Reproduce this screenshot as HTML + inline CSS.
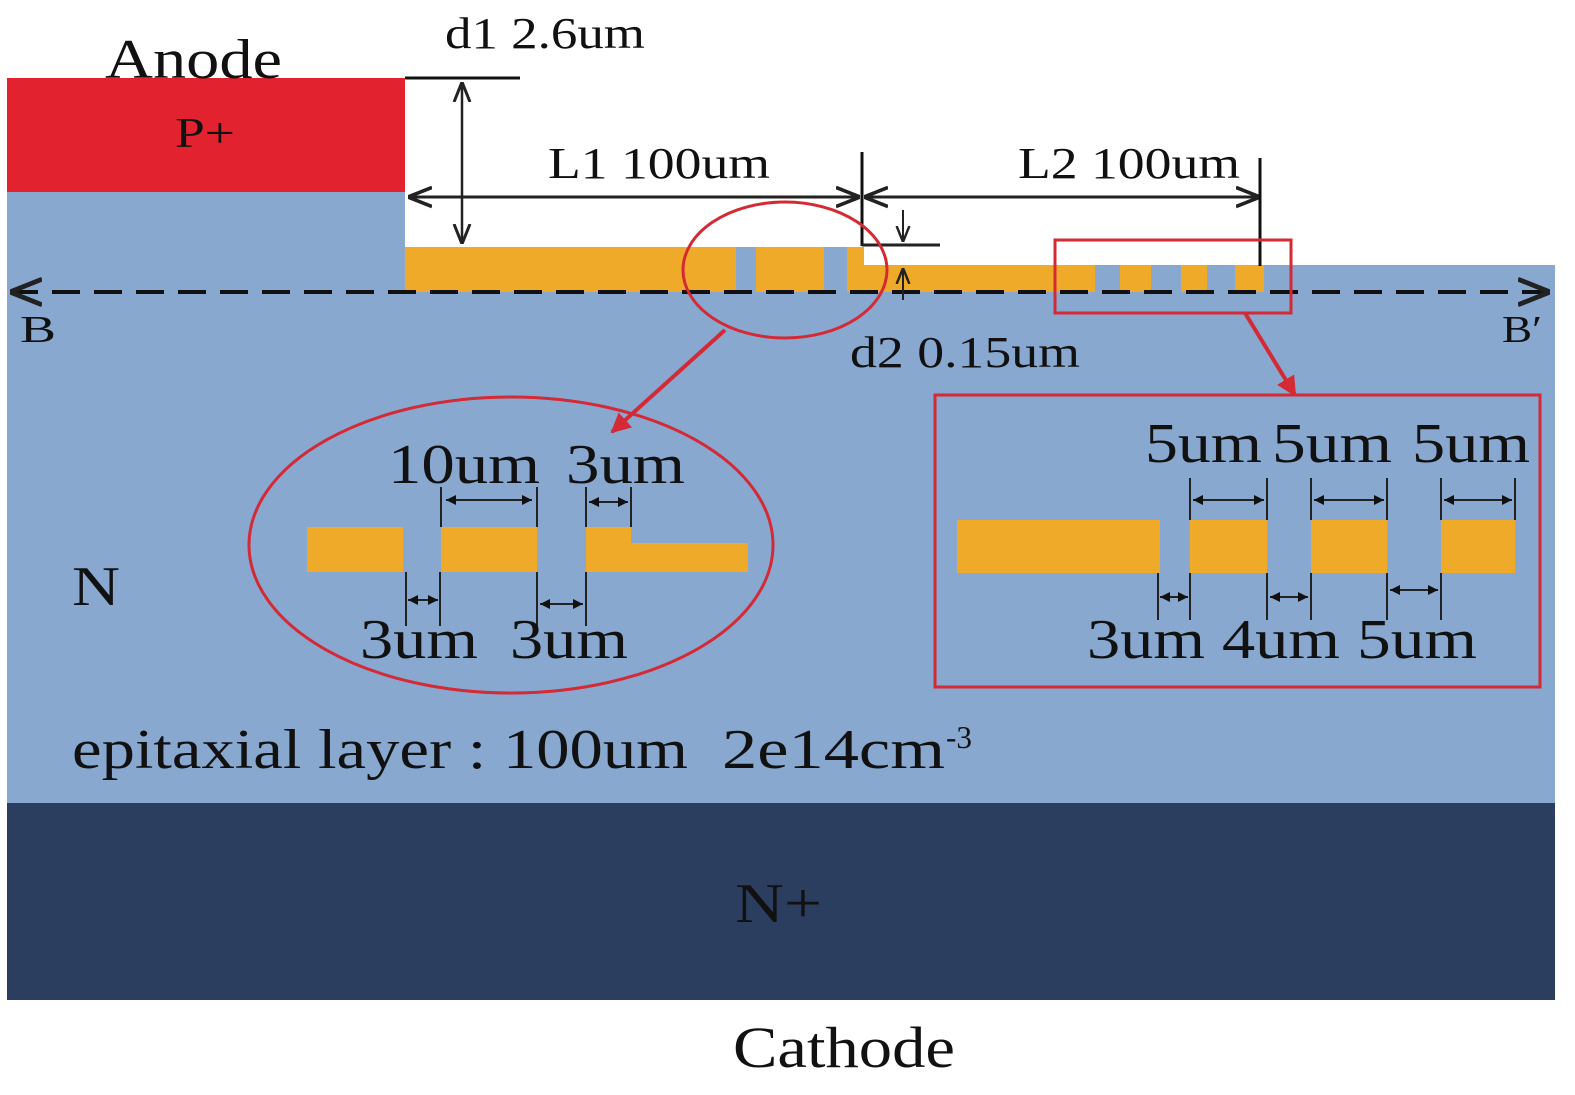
<!DOCTYPE html>
<html><head><meta charset="utf-8"><style>
body{margin:0;background:#fff}
svg{display:block}
text{font-family:"Liberation Serif",serif;fill:#111}
</style></head><body>
<svg width="1575" height="1095" viewBox="0 0 1575 1095" xmlns="http://www.w3.org/2000/svg">
<defs>
<marker id="a" viewBox="0 0 10 10" refX="10" refY="5" markerWidth="8" markerHeight="8" orient="auto-start-reverse"><path d="M0,1 L10,5 L0,9" fill="none" stroke="#222" stroke-width="1.5"/></marker>
<marker id="s" viewBox="0 0 10 10" refX="10" refY="5" markerWidth="5" markerHeight="5" orient="auto-start-reverse"><path d="M0,0 L10,5 L0,10z" fill="#111"/></marker>
<marker id="r" viewBox="0 0 10 10" refX="9" refY="5" markerWidth="5" markerHeight="5" orient="auto"><path d="M0,0 L10,5 L0,10z" fill="#d42a35"/></marker>
</defs>
<rect x="7" y="192" width="1548" height="611" fill="#88a8d0"/>
<rect x="405" y="192" width="1150" height="73" fill="#fff"/>
<rect x="7" y="78" width="398" height="114" fill="#e3222f"/>
<rect x="7" y="803" width="1548" height="197" fill="#2c3e60"/>
<rect x="405" y="247" width="331" height="45" fill="#eeaa28"/>
<rect x="736" y="247" width="20" height="45" fill="#88a8d0"/>
<rect x="756" y="247" width="68" height="45" fill="#eeaa28"/>
<rect x="824" y="247" width="23" height="45" fill="#88a8d0"/>
<rect x="847" y="247" width="17" height="45" fill="#eeaa28"/>
<rect x="864" y="265" width="231" height="27" fill="#eeaa28"/>
<rect x="1095" y="265" width="25" height="27" fill="#88a8d0"/>
<rect x="1120" y="265" width="31" height="27" fill="#eeaa28"/>
<rect x="1151" y="265" width="30" height="27" fill="#88a8d0"/>
<rect x="1181" y="265" width="26" height="27" fill="#eeaa28"/>
<rect x="1207" y="265" width="28" height="27" fill="#88a8d0"/>
<rect x="1235" y="265" width="29" height="27" fill="#eeaa28"/>
<rect x="1264" y="265" width="291" height="27" fill="#88a8d0"/>
<line x1="10" y1="292" x2="1550" y2="292" stroke="#111" stroke-width="4" stroke-dasharray="28,14" marker-start="url(#a)" marker-end="url(#a)"/>
<text x="20" y="342" font-size="38" textLength="36" lengthAdjust="spacingAndGlyphs">B</text>
<text x="1502" y="342" font-size="38" textLength="40" lengthAdjust="spacingAndGlyphs">B′</text>
<text x="105" y="78" font-size="56" textLength="177" lengthAdjust="spacingAndGlyphs">Anode</text>
<text x="175" y="147" font-size="42" fill="#333" textLength="60" lengthAdjust="spacingAndGlyphs">P+</text>
<text x="445" y="48" font-size="44" textLength="200" lengthAdjust="spacingAndGlyphs">d1 2.6um</text>
<line x1="405" y1="78" x2="520" y2="78" stroke="#111" stroke-width="3"/>
<line x1="462" y1="82" x2="462" y2="244" stroke="#222" stroke-width="2.5" marker-start="url(#a)" marker-end="url(#a)"/>
<text x="548" y="178" font-size="44" textLength="222" lengthAdjust="spacingAndGlyphs">L1 100um</text>
<text x="1018" y="178" font-size="44" textLength="222" lengthAdjust="spacingAndGlyphs">L2 100um</text>
<line x1="408" y1="197" x2="860" y2="197" stroke="#222" stroke-width="3" marker-start="url(#a)" marker-end="url(#a)"/>
<line x1="864" y1="197" x2="1260" y2="197" stroke="#222" stroke-width="3" marker-start="url(#a)" marker-end="url(#a)"/>
<line x1="862" y1="152" x2="862" y2="246" stroke="#111" stroke-width="3"/>
<line x1="1260" y1="158" x2="1260" y2="266" stroke="#111" stroke-width="3"/>
<line x1="862" y1="245" x2="940" y2="245" stroke="#222" stroke-width="3"/>
<line x1="903" y1="210" x2="903" y2="242" stroke="#222" stroke-width="2" marker-end="url(#a)"/>
<line x1="903" y1="300" x2="903" y2="268" stroke="#222" stroke-width="2" marker-end="url(#a)"/>
<text x="850" y="367" font-size="44" textLength="230" lengthAdjust="spacingAndGlyphs">d2 0.15um</text>
<ellipse cx="785" cy="270" rx="102" ry="68" fill="none" stroke="#d42a35" stroke-width="3"/>
<rect x="1055" y="240" width="236" height="73" fill="none" stroke="#d42a35" stroke-width="3"/>
<line x1="725" y1="330" x2="612" y2="432" stroke="#d42a35" stroke-width="4" marker-end="url(#r)"/>
<line x1="1245" y1="313" x2="1295" y2="395" stroke="#d42a35" stroke-width="4" marker-end="url(#r)"/>
<ellipse cx="511" cy="545" rx="262" ry="148" fill="none" stroke="#d42a35" stroke-width="3"/>
<rect x="307" y="527" width="96" height="45" fill="#eeaa28"/>
<rect x="441" y="527" width="96" height="45" fill="#eeaa28"/>
<rect x="586" y="527" width="45" height="45" fill="#eeaa28"/>
<rect x="631" y="543" width="117" height="29" fill="#eeaa28"/>
<g stroke="#222" stroke-width="2">
<line x1="441" y1="487" x2="441" y2="527"/><line x1="537" y1="487" x2="537" y2="527"/>
<line x1="446" y1="500" x2="532" y2="500" marker-start="url(#s)" marker-end="url(#s)"/>
<line x1="586" y1="487" x2="586" y2="527"/><line x1="631" y1="487" x2="631" y2="527"/>
<line x1="589" y1="502" x2="628" y2="502" marker-start="url(#s)" marker-end="url(#s)"/>
<line x1="406" y1="572" x2="406" y2="626"/><line x1="440" y1="572" x2="440" y2="626"/>
<line x1="408" y1="600" x2="438" y2="600" marker-start="url(#s)" marker-end="url(#s)"/>
<line x1="537" y1="572" x2="537" y2="626"/><line x1="586" y1="572" x2="586" y2="626"/>
<line x1="540" y1="604" x2="583" y2="604" marker-start="url(#s)" marker-end="url(#s)"/>
</g>
<g font-size="56">
<text x="388" y="483" textLength="152" lengthAdjust="spacingAndGlyphs">10um</text>
<text x="566" y="483" textLength="119" lengthAdjust="spacingAndGlyphs">3um</text>
<text x="360" y="658" textLength="118" lengthAdjust="spacingAndGlyphs">3um</text>
<text x="510" y="658" textLength="118" lengthAdjust="spacingAndGlyphs">3um</text>
</g>
<rect x="935" y="395" width="605" height="292" fill="none" stroke="#d42a35" stroke-width="3"/>
<rect x="957" y="520" width="203" height="53" fill="#eeaa28"/>
<rect x="1190" y="520" width="77" height="53" fill="#eeaa28"/>
<rect x="1311" y="520" width="76" height="53" fill="#eeaa28"/>
<rect x="1441" y="520" width="74" height="53" fill="#eeaa28"/>
<g stroke="#222" stroke-width="2">
<line x1="1190" y1="478" x2="1190" y2="520"/><line x1="1267" y1="478" x2="1267" y2="520"/>
<line x1="1193" y1="500" x2="1264" y2="500" marker-start="url(#s)" marker-end="url(#s)"/>
<line x1="1311" y1="478" x2="1311" y2="520"/><line x1="1387" y1="478" x2="1387" y2="520"/>
<line x1="1314" y1="500" x2="1384" y2="500" marker-start="url(#s)" marker-end="url(#s)"/>
<line x1="1441" y1="478" x2="1441" y2="520"/><line x1="1515" y1="478" x2="1515" y2="520"/>
<line x1="1444" y1="500" x2="1512" y2="500" marker-start="url(#s)" marker-end="url(#s)"/>
<line x1="1158" y1="573" x2="1158" y2="620"/><line x1="1190" y1="573" x2="1190" y2="620"/>
<line x1="1160" y1="597" x2="1188" y2="597" marker-start="url(#s)" marker-end="url(#s)"/>
<line x1="1267" y1="573" x2="1267" y2="620"/><line x1="1311" y1="573" x2="1311" y2="620"/>
<line x1="1270" y1="597" x2="1308" y2="597" marker-start="url(#s)" marker-end="url(#s)"/>
<line x1="1387" y1="573" x2="1387" y2="620"/><line x1="1441" y1="573" x2="1441" y2="620"/>
<line x1="1390" y1="590" x2="1438" y2="590" marker-start="url(#s)" marker-end="url(#s)"/>
</g>
<g font-size="56">
<text x="1145" y="462" textLength="117" lengthAdjust="spacingAndGlyphs">5um</text>
<text x="1272" y="462" textLength="120" lengthAdjust="spacingAndGlyphs">5um</text>
<text x="1412" y="462" textLength="118" lengthAdjust="spacingAndGlyphs">5um</text>
<text x="1087" y="658" textLength="118" lengthAdjust="spacingAndGlyphs">3um</text>
<text x="1222" y="658" textLength="118" lengthAdjust="spacingAndGlyphs">4um</text>
<text x="1357" y="658" textLength="120" lengthAdjust="spacingAndGlyphs">5um</text>
<text x="72" y="605" textLength="48" lengthAdjust="spacingAndGlyphs">N</text>
<text x="72" y="768" textLength="616" lengthAdjust="spacingAndGlyphs">epitaxial layer : 100um</text>
<text x="722" y="768" textLength="223" lengthAdjust="spacingAndGlyphs">2e14cm</text>
</g>
<text x="946" y="748" font-size="32" textLength="26" lengthAdjust="spacingAndGlyphs">-3</text>
<text x="735" y="922" font-size="56" fill="#e8e8f0" textLength="87" lengthAdjust="spacingAndGlyphs">N+</text>
<text x="733" y="1067" font-size="58" textLength="222" lengthAdjust="spacingAndGlyphs">Cathode</text>
</svg>
</body></html>
